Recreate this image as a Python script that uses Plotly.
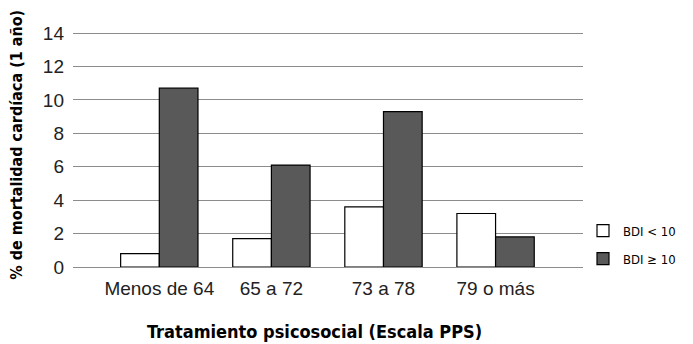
import plotly.graph_objects as go

# Data
categorias = ["Menos de 64", "65 a 72", "73 a 78", "79 o más"]
bdi_bajo = [0.8, 1.7, 3.6, 3.2]      # BDI < 10
bdi_alto = [10.7, 6.1, 9.3, 1.8]     # BDI >= 10
y_ticks = [0, 2, 4, 6, 8, 10, 12, 14]

narrow = "Liberation Sans Narrow, DejaVu Sans Condensed, Arial Narrow, sans-serif"
regular = "Liberation Sans, Arial, sans-serif"

fig = go.Figure()

fig.add_trace(go.Bar(
    x=categorias,
    y=bdi_bajo,
    name="BDI < 10",
    marker=dict(color="white", line=dict(color="black", width=1.2)),
    legendgroup="a"
))

fig.add_trace(go.Bar(
    x=categorias,
    y=bdi_alto,
    name="BDI ≥ 10",
    marker=dict(color="#595959", line=dict(color="black", width=1.2)),
    legendgroup="b"
))

# the page body adds an 8px offset, so the figure is 8px smaller
fig.update_layout(
    width=685,
    height=336,
    margin=dict(l=65, r=104, t=20, b=77),
    paper_bgcolor="white",
    plot_bgcolor="white",
    barmode="group",
    bargap=0.31,
    bargroupgap=0,
    font=dict(family=regular, color="black"),
    xaxis=dict(
        range=[-0.77, 3.78],
        automargin=False,
        showgrid=False,
        showline=False,
        ticks="",
        ticklabelstandoff=8,
        tickfont=dict(size=19, family=regular, color="#222222"),
    ),
    yaxis=dict(
        range=[0, 14.3],
        automargin=False,
        tickvals=y_ticks,
        showgrid=True,
        gridcolor="#8c8c8c",
        gridwidth=1.3,
        zeroline=True,
        zerolinecolor="#8c8c8c",
        zerolinewidth=1.3,
        showline=False,
        ticks="",
        ticklabelstandoff=8,
        tickfont=dict(size=19, family=regular, color="#222222"),
    ),
    legend=dict(
        x=1.0,
        xanchor="left",
        y=0.093,
        yanchor="middle",
        font=dict(size=13, family=narrow, color="black"),
        traceorder="grouped",
        tracegroupgap=8,
        itemwidth=30,
        bgcolor="rgba(0,0,0,0)"
    ),
    annotations=[
        dict(text="<b>Tratamiento psicosocial (Escala PPS)</b>",
             xref="paper", yref="paper", x=(317 - 73) / 516, y=-(331 - 267) / 239,
             xanchor="center", yanchor="middle", showarrow=False,
             font=dict(size=18, family=narrow, color="black")),
        dict(text="<b>% de mortalidad cardíaca (1 año)</b>",
             xref="paper", yref="paper", x=-(73 - 15) / 516, y=(267 - 145) / 239,
             xanchor="center", yanchor="middle", showarrow=False, textangle=-90,
             font=dict(size=16, family=narrow, color="black")),
    ]
)

fig.write_html("out.html")
